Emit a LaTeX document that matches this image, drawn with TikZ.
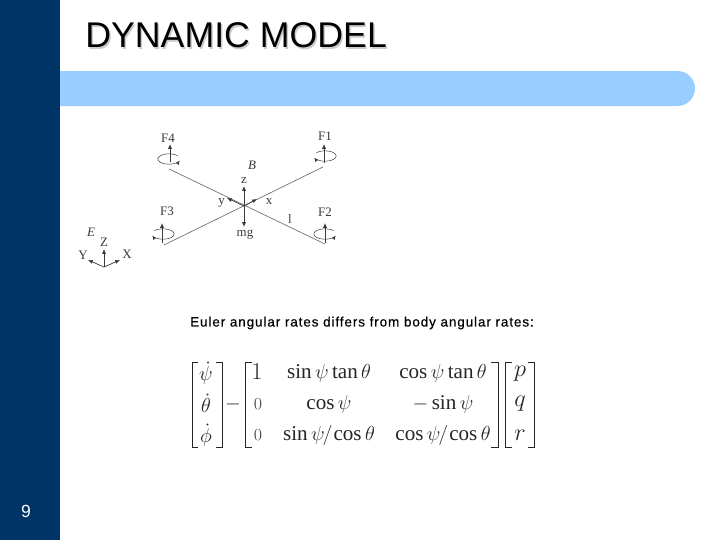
\documentclass[tikz,border=0pt]{standalone}
\usepackage{fontspec}
\usepackage{xcolor}
\setmainfont{Liberation Serif}
\setsansfont{Liberation Sans}
\usetikzlibrary{arrows.meta}
\definecolor{navy}{HTML}{003366}
\definecolor{sky}{HTML}{99CCFF}
\definecolor{ink}{HTML}{3A3A3A}

\begin{document}
\begin{tikzpicture}[
  x=0.025cm, y=-0.025cm,
  titletext/.style={font=\sffamily\fontsize{25.4}{30}\selectfont, inner sep=0pt},
  captiontext/.style={font=\sffamily\fontsize{9.6}{11}\addfontfeature{LetterSpace=6.6,FakeBold=0.35}\selectfont, inner sep=0pt},
  label/.style={font=\fontsize{9.2}{11}\selectfont, text=ink, inner sep=0pt},
  axis/.style={-{Latex[length=1.2mm,width=1mm]}, draw=ink, line width=0.5pt},
  arm/.style={draw=ink!70, line width=0.5pt},
  rotor/.style={-{Latex[length=1mm,width=0.9mm]}, draw=ink, line width=0.35pt},
  cell/.style={font=\fontsize{15}{18}\selectfont, inner sep=0pt, text=black!85},
  onecell/.style={font=\fontsize{17}{20}\selectfont, inner sep=0pt, text=black!85},
  bigcell/.style={font=\fontsize{19}{22}\selectfont, inner sep=0pt, text=black!85},
  zerocell/.style={font=\fontsize{11.5}{14}\selectfont, inner sep=0pt, text=black!70},
  bracket/.style={draw=black!85, line width=0.6pt}
]
  \useasboundingbox (0,0) rectangle (720,540);
  \fill[white] (0,0) rectangle (720,540);

  % slide frame
  \fill[navy] (0,0) rectangle (60,540);
  \fill[sky] (60,71) -- (677.5,71) arc[start angle=90, end angle=-90, radius=0.4375cm] -- (60,106) -- cycle;
  \node[titletext, text=black!20, anchor=west] (titleshadow) at (86.5,37) {DYNAMIC MODEL};
  \node[titletext, anchor=west] (title) at (85,35.5) {DYNAMIC MODEL};
  \node[font=\sffamily\fontsize{12.5}{14}\selectfont, text=white, inner sep=0pt] (page) at (26,511.5) {9};

  % quadrotor
  \coordinate (body) at (244,206);
  \coordinate (m1) at (323,167);
  \coordinate (m2) at (325,244);
  \coordinate (m3) at (164,245);
  \coordinate (m4) at (169,169);
  \draw[arm] (m1) -- (m3);
  \draw[arm] (m4) -- (m2);

  \coordinate (t1) at (324,144);
  \coordinate (t2) at (325,223);
  \coordinate (t3) at (162,223);
  \coordinate (t4) at (170,144);
  \coordinate (b1) at (324,163);
  \coordinate (b2) at (325,243);
  \coordinate (b3) at (162,243);
  \coordinate (b4) at (170,162);
  \draw[axis] (b1) -- (t1);
  \draw[axis] (b2) -- (t2);
  \draw[axis] (b3) -- (t3);
  \draw[axis] (b4) -- (t4);

  \coordinate (r1) at (325,156);
  \coordinate (r2) at (325,234);
  \coordinate (r3) at (163,234);
  \coordinate (r4) at (169,159);
  \draw[rotor] ([shift={(140:0.28cm and 0.13cm)}]r1) arc (140:-162:0.28cm and 0.13cm);
  \draw[rotor] ([shift={(40:0.28cm and 0.13cm)}]r2) arc (40:342:0.28cm and 0.13cm);
  \draw[rotor] ([shift={(140:0.28cm and 0.13cm)}]r3) arc (140:-162:0.28cm and 0.13cm);
  \draw[rotor] ([shift={(40:0.28cm and 0.13cm)}]r4) arc (40:342:0.28cm and 0.13cm);

  \node[label] (f1) at (325,136) {F1};
  \node[label] (f2) at (325,212) {F2};
  \node[label] (f3) at (167,211) {F3};
  \node[label] (f4) at (168,138) {F4};
  \node[label] (bframe) at (252,165) {\itshape B};
  \node[label] (arml) at (290,219) {l};

  \coordinate (zb) at (244,186);
  \coordinate (xb) at (257,199);
  \coordinate (yb) at (227,198);
  \coordinate (mgb) at (244,227);
  \draw[axis] (body) -- (zb);
  \draw[axis] (body) -- (xb);
  \draw[axis] (body) -- (yb);
  \draw[axis] (body) -- (mgb);
  \node[label] (zlabel) at (244,181) {z};
  \node[label] (xlabel) at (269,202) {x};
  \node[label] (ylabel) at (221.5,202.5) {y};
  \node[label] (mglabel) at (245,235) {mg};

  % earth frame
  \coordinate (earth) at (104,267);
  \coordinate (ze) at (104,249);
  \coordinate (xe) at (120,260);
  \coordinate (ye) at (88,260);
  \draw[axis] (earth) -- (ze);
  \draw[axis] (earth) -- (xe);
  \draw[axis] (earth) -- (ye);
  \node[label] (eframe) at (91,232) {\itshape E};
  \node[label] (zelabel) at (104,242) {Z};
  \node[label] (xelabel) at (127,254) {X};
  \node[label] (yelabel) at (83,255) {Y};

  \node[captiontext] (caption) at (362,323) {Euler angular rates differs from body angular rates:};

  % rate equation
  \node[cell] (psidot) at (206,373) {$\dot\psi$};
  \node[cell] (thetadot) at (206,403) {$\dot\theta$};
  \node[cell] (phidot) at (206,435) {$\dot\phi$};
  \node[cell] (minus) at (233,404) {$-$};
  \node[onecell] (a11) at (257,372) {$1$};
  \node[zerocell] (a21) at (258,404) {$0$};
  \node[zerocell] (a31) at (258,435) {$0$};
  \node[cell] (a12) at (329,373) {$\sin\psi\tan\theta$};
  \node[cell] (a22) at (329,404) {$\cos\psi$};
  \node[cell] (a32) at (329,435) {$\sin\psi\mkern-2mu/\mkern-2mu\cos\theta$};
  \node[cell] (a13) at (443,373) {$\cos\psi\tan\theta$};
  \node[cell] (a23) at (443,404) {$-\sin\psi$};
  \node[cell] (a33) at (443,435) {$\cos\psi\mkern-2mu/\mkern-2mu\cos\theta$};
  \node[bigcell] (p) at (520,374) {$p$};
  \node[bigcell] (q) at (520,404) {$q$};
  \node[bigcell] (r) at (520,435) {$r$};

  \draw[bracket] (198,362) -| (192,447) -- (198,447);
  \draw[bracket] (216,362) -| (222,447) -- (216,447);
  \draw[bracket] (252,362) -| (245,447) -- (252,447);
  \draw[bracket] (491,362) -| (498,447) -- (491,447);
  \draw[bracket] (512,362) -| (505,447) -- (512,447);
  \draw[bracket] (528,362) -| (534,447) -- (528,447);
\end{tikzpicture}
\end{document}
